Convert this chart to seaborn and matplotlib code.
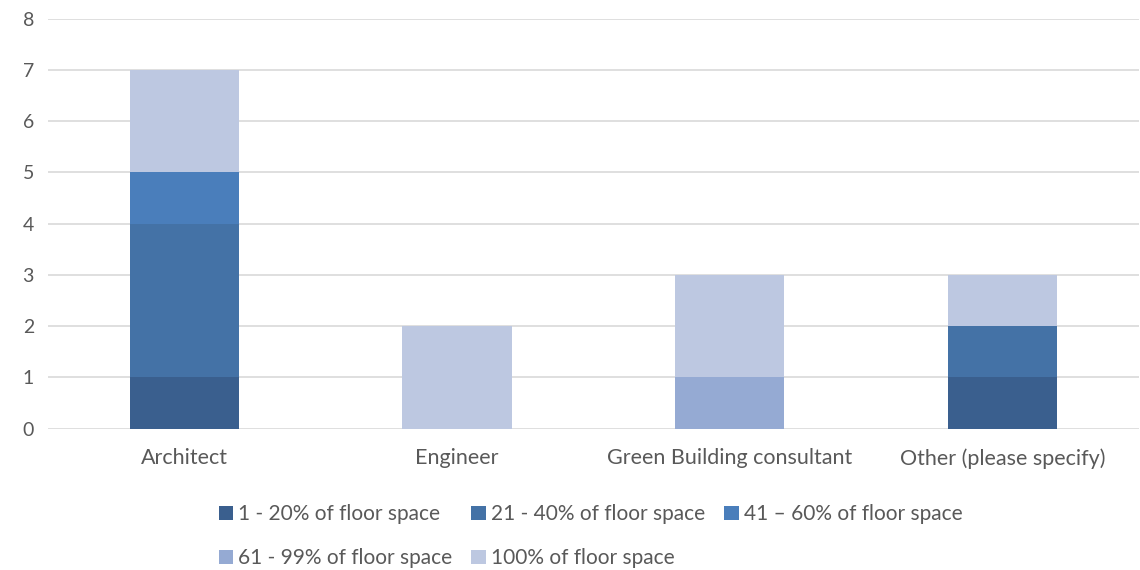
import matplotlib.pyplot as plt
import numpy as np
import pandas as pd
import seaborn as sns

categories = ["Architect", "Engineer", "Green Building consultant", "Other (please specify)"]
series = ["1 - 20% of floor space", "21 - 40% of floor space", "41 – 60% of floor space",
          "61 - 99% of floor space", "100% of floor space"]
s1_20 = [1, 0, 0, 1]
s21_40 = [3, 0, 0, 1]
s41_60 = [1, 0, 0, 0]
s61_99 = [0, 0, 1, 0]
s100 = [2, 2, 2, 1]
colors = ["#3A5F8E", "#4472A6", "#4A7EBB", "#95AAD3", "#BDC8E1"]

sns.set_theme(style="white")
plt.rcParams["font.family"] = ["Lato", "DejaVu Sans"]

df = pd.DataFrame({"category": categories, series[0]: s1_20, series[1]: s21_40,
                   series[2]: s41_60, series[3]: s61_99, series[4]: s100})

fig, ax = plt.subplots(figsize=(11.4, 5.7), dpi=100)
bottom = np.zeros(len(categories))
for name, col in zip(series, colors):
    sns.barplot(df, x="category", y=name, color=col, bottom=bottom, width=0.4,
                saturation=1, label=name, ax=ax, zorder=2, linewidth=0)
    bottom = bottom + df[name].to_numpy()

ax.set_ylim(0, 8)
ax.set_xlim(-0.5, 3.5)
ax.set_yticks(range(0, 9))
ax.grid(axis="y", color="#D9D9D9", lw=1.2, zorder=0)
ax.set_axisbelow(True)
for s in ["top", "right", "left", "bottom"]:
    ax.spines[s].set_visible(False)
ax.tick_params(axis="y", length=0, labelsize=14, labelcolor="#595959", pad=10)
ax.tick_params(axis="x", length=0, labelsize=15.5, labelcolor="#595959", pad=14)
ax.set(xlabel="", ylabel="")

if ax.get_legend():
    ax.get_legend().remove()
handles, labels = ax.get_legend_handles_labels()
order = [0, 3, 1, 4, 2]  # row-major fill across 3 columns
fig.legend([handles[i] for i in order], [labels[i] for i in order], ncol=3,
           loc="lower center", bbox_to_anchor=(0.518, -0.03), frameon=False,
           fontsize=15, labelcolor="#595959", handlelength=0.7, handleheight=0.7,
           handletextpad=0.25, columnspacing=0.9, labelspacing=1.15)

fig.subplots_adjust(left=0.042, right=0.999, top=0.967, bottom=0.248)
fig.savefig("out.png", dpi=100)
